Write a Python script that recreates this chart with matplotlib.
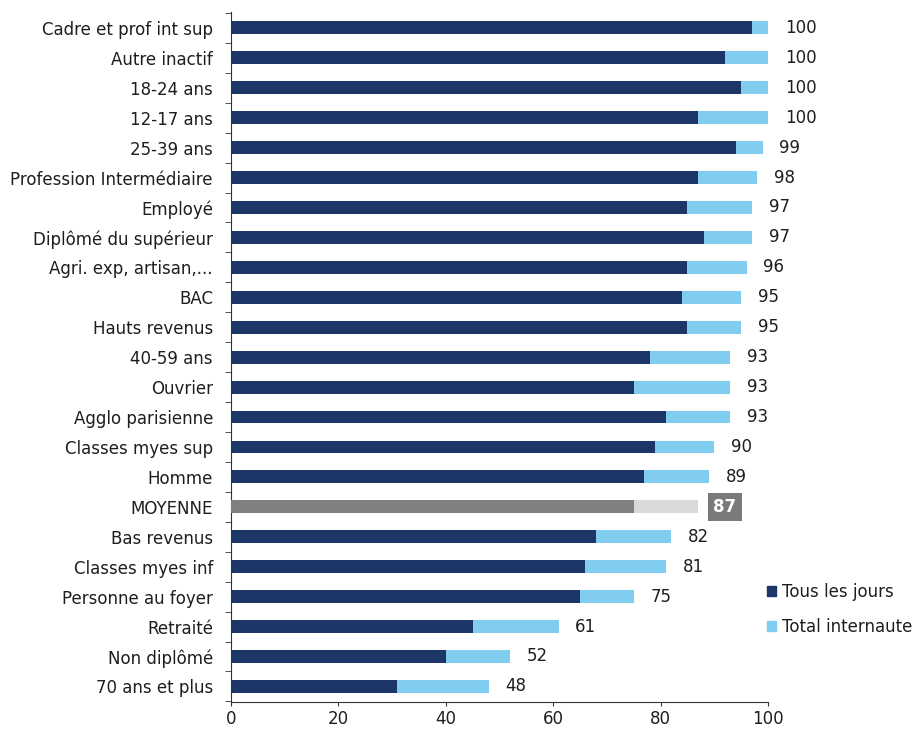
import matplotlib
matplotlib.use("Agg")
import matplotlib.pyplot as plt
from matplotlib.patches import Patch

categories = ["Cadre et prof int sup", "Autre inactif", "18-24 ans", "12-17 ans", "25-39 ans",
              "Profession Intermédiaire", "Employé", "Diplômé du supérieur", "Agri. exp, artisan,...",
              "BAC", "Hauts revenus", "40-59 ans", "Ouvrier", "Agglo parisienne",
              "Classes myes sup", "Homme", "MOYENNE", "Bas revenus", "Classes myes inf",
              "Personne au foyer", "Retraité", "Non diplômé", "70 ans et plus"]
tous_les_jours = [97, 92, 95, 87, 94, 87, 85, 88, 85, 84, 85, 78, 75, 81, 79, 77, 75, 68, 66, 65, 45, 40, 31]
total_internaute = [100, 100, 100, 100, 99, 98, 97, 97, 96, 95, 95, 93, 93, 93, 90, 89, 87, 82, 81, 75, 61, 52, 48]
xticks = [0, 20, 40, 60, 80, 100]
highlight = "MOYENNE"

DARK = "#1c3667"
LIGHT = "#80cdef"
GDARK = "#808080"
GLIGHT = "#d9d9d9"
TXT = "#1e1e1e"
FS = 12

fig = plt.figure(figsize=(9.18, 7.33), dpi=100)
ax = fig.add_axes([231/918, 1-702/733, (768-231)/918, (702-12)/733])

ys = list(range(len(categories)))
h = 0.43
for y, cat, d, t in zip(ys, categories, tous_les_jours, total_internaute):
    hl = cat == highlight
    ax.barh(y, t, height=h, color=GLIGHT if hl else LIGHT, zorder=2)
    ax.barh(y, d, height=h, color=GDARK if hl else DARK, zorder=3)
    if hl:
        ax.annotate(str(t), xy=(t, y), xytext=(11, 0), textcoords="offset points",
                    va="center", ha="left", fontsize=FS, fontweight="bold", color="white",
                    bbox=dict(boxstyle="square,pad=0.3", fc="#7a7a7a", ec="none"))
    else:
        ax.annotate(str(t), xy=(t, y), xytext=(12, 0), textcoords="offset points",
                    va="center", ha="left", fontsize=FS, color=TXT)

ax.set_xlim(0, 100)
ax.set_ylim(len(categories) - 0.48, -0.53)
ax.set_yticks(ys)
ax.set_yticklabels(categories, fontsize=FS, color=TXT)
ax.set_yticks([y + 0.5 for y in range(-1, len(categories))], minor=True)
ax.tick_params(axis="y", which="major", length=0, pad=13)
ax.tick_params(axis="y", which="minor", length=4, direction="out", color="#333333")
ax.set_xticks(xticks)
ax.set_xticklabels([str(v) for v in xticks], fontsize=FS, color=TXT)
ax.tick_params(axis="x", length=3, direction="out", color="#333333", pad=3)
for s in ["top", "right"]:
    ax.spines[s].set_visible(False)
for s in ["left", "bottom"]:
    ax.spines[s].set_color("#333333")

handles = [Patch(color=DARK, label="Tous les jours"), Patch(color=LIGHT, label="Total internaute")]
fig.legend(handles=handles, loc="upper left", bbox_to_anchor=(752/918, 1-568/733),
           frameon=False, fontsize=FS, handlelength=0.55, handleheight=0.55,
           handletextpad=0.35, labelspacing=1.0, labelcolor=TXT)

fig.savefig("out.png", dpi=100)
